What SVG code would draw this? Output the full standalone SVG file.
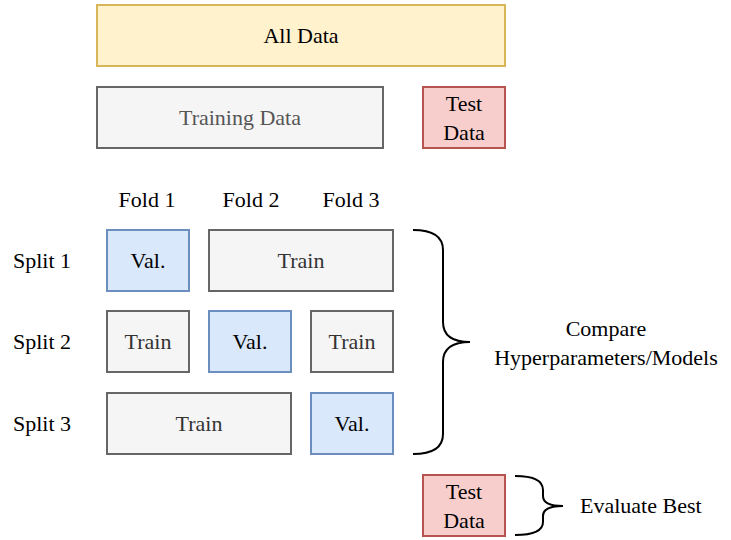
<svg xmlns="http://www.w3.org/2000/svg" width="731" height="540" viewBox="0 0 731 540" font-family="Liberation Serif, DejaVu Serif, Times New Roman, serif">
  <style>
    text { font-size: 22px; text-anchor: middle; dominant-baseline: central; fill: #000; }
    .lbl { text-anchor: start; }
    .yellow { fill: #fff2cc; stroke: #d6b656; stroke-width: 2; }
    .grey { fill: #f5f5f5; stroke: #666666; stroke-width: 2; }
    .red { fill: #f8cecc; stroke: #b85450; stroke-width: 2; }
    .blue { fill: #dae8fc; stroke: #6c8ebf; stroke-width: 2; }
    .grey + text { fill: #333333; }
    .brace { fill: none; stroke: #000; stroke-width: 2; }
  </style>
  <rect width="731" height="540" fill="#fff"/>

  <g id="all-data"><rect class="yellow" x="97" y="5" width="408" height="61"/><text x="301" y="35.5">All Data</text></g>
  <g id="training-data"><rect class="grey" x="97" y="87" width="286" height="61"/><text x="240" y="117.5" style="fill:#555">Training Data</text></g>
  <g id="test-data"><rect class="red" x="423" y="87" width="82" height="61"/><text x="464" y="103">Test</text><text x="464" y="132">Data</text></g>

  <g id="fold-labels">
    <text x="147" y="199">Fold 1</text>
    <text x="251" y="199">Fold 2</text>
    <text x="351" y="199">Fold 3</text>
  </g>
  <g id="split-labels">
    <text class="lbl" x="13" y="260.5">Split 1</text>
    <text class="lbl" x="13" y="341.5">Split 2</text>
    <text class="lbl" x="13" y="423">Split 3</text>
  </g>

  <g id="split1-val"><rect class="blue" x="107" y="230" width="82" height="61"/><text x="148" y="260.5">Val.</text></g>
  <g id="split1-train"><rect class="grey" x="209" y="230" width="184" height="61"/><text x="301" y="260.5">Train</text></g>

  <g id="split2-train-a"><rect class="grey" x="107" y="311" width="82" height="61"/><text x="148" y="341.5">Train</text></g>
  <g id="split2-val"><rect class="blue" x="209" y="311" width="82" height="61"/><text x="250" y="341.5">Val.</text></g>
  <g id="split2-train-b"><rect class="grey" x="311" y="311" width="82" height="61"/><text x="352" y="341.5">Train</text></g>

  <g id="split3-train"><rect class="grey" x="107" y="393" width="184" height="61"/><text x="199" y="423.5">Train</text></g>
  <g id="split3-val"><rect class="blue" x="311" y="393" width="82" height="61"/><text x="352" y="423.5">Val.</text></g>

  <g id="test-data-final"><rect class="red" x="423" y="475" width="82" height="61"/><text x="464" y="491">Test</text><text x="464" y="520">Data</text></g>

  <g id="connectors">
    <path class="brace" d="M413 230 Q443 230 443 250 L443 322 Q443 342 470 342 Q443 342 443 362 L443 434 Q443 454 413 454"/>
    <path class="brace" d="M515 476 Q543 476 543 490 L543 496 Q543 506 563 506 Q543 506 543 516 L543 522 Q543 535 515 535"/>
  </g>

  <g id="compare-label"><text x="606" y="328">Compare</text><text x="606" y="357">Hyperparameters/Models</text></g>
  <g id="evaluate-label"><text class="lbl" x="580" y="505">Evaluate Best</text></g>
</svg>
